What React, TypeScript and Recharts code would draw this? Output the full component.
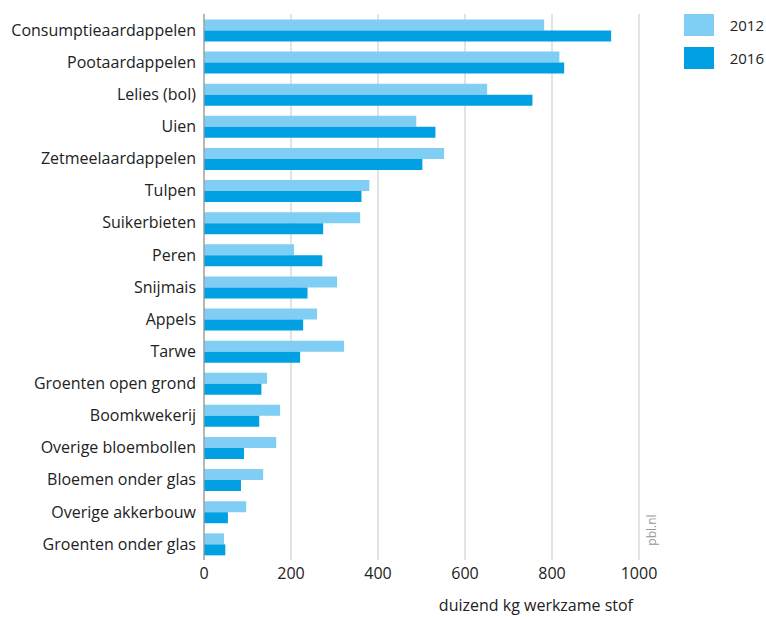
import { BarChart, Bar, XAxis, YAxis, CartesianGrid, Legend } from 'recharts';

const categories = [
    'Consumptieaardappelen',
    'Pootaardappelen',
    'Lelies (bol)',
    'Uien',
    'Zetmeelaardappelen',
    'Tulpen',
    'Suikerbieten',
    'Peren',
    'Snijmais',
    'Appels',
    'Tarwe',
    'Groenten open grond',
    'Boomkwekerij',
    'Overige bloembollen',
    'Bloemen onder glas',
    'Overige akkerbouw',
    'Groenten onder glas',
];

// duizend kg werkzame stof
const values2012 = [782, 817, 651, 488, 552, 380, 359, 207, 306, 260, 322, 145, 175, 166, 136, 97, 46];
const values2016 = [936, 828, 755, 532, 502, 362, 274, 272, 238, 228, 221, 132, 127, 92, 85, 55, 49];

const xTicks = [0, 200, 400, 600, 800, 1000];

const FONT = '"Open Sans", sans-serif';
const LIGHT = '#80cef3';
const DARK = '#00a0e3';

const data = categories.map((name, i) => ({
    name,
    y2012: values2012[i],
    y2016: values2016[i],
}));

// legend drawn as stacked swatches, top right
const renderLegend = (props: any) => {
    const items = props.payload || [];
    return (
        <div style={{ fontFamily: FONT, fontSize: 15, color: '#222' }}>
            {items.map((entry: any) => (
                <div key={entry.value} style={{ display: 'flex', alignItems: 'center', height: 22, marginBottom: 11 }}>
                    <span style={{ display: 'inline-block', width: 30, height: 22, background: entry.color }} />
                    <span style={{ marginLeft: 16 }}>{entry.value}</span>
                </div>
            ))}
        </div>
    );
};

export default function App() {
    return (
        <div style={{ position: 'absolute', left: 0, top: 0, width: 766, height: 617, background: '#fff' }}>
            <BarChart
                width={766}
                height={617}
                data={data}
                layout="vertical"
                margin={{ top: 14, right: 127, bottom: 0, left: 0 }}
                barCategoryGap="17%"
                barGap={0}
            >
                <CartesianGrid horizontal={false} stroke="#d0d0d0" strokeWidth={1.2} />
                <XAxis
                    type="number"
                    domain={[0, 1000]}
                    ticks={xTicks}
                    axisLine={false}
                    tickLine={false}
                    height={57}
                    tick={{ fontSize: 16, fill: '#222', fontFamily: FONT }}
                    label={{
                        value: 'duizend kg werkzame stof',
                        position: 'insideBottomRight',
                        offset: 6,
                        style: { fontSize: 16, fill: '#222', fontFamily: FONT },
                    }}
                />
                <YAxis
                    type="category"
                    dataKey="name"
                    width={204}
                    tickLine={false}
                    axisLine={{ stroke: '#999', strokeWidth: 1.2 }}
                    interval={0}
                    tick={{ fontSize: 16, fill: '#222', fontFamily: FONT }}
                />
                <Legend
                    layout="vertical"
                    align="center"
                    verticalAlign="middle"
                    content={renderLegend}
                    wrapperStyle={{ top: 14, left: 684, width: 80 }}
                />
                <Bar dataKey="y2012" name="2012" fill={LIGHT} isAnimationActive={false} />
                <Bar dataKey="y2016" name="2016" fill={DARK} isAnimationActive={false} />
            </BarChart>
            <span
                style={{
                    position: 'absolute',
                    left: 651,
                    top: 530,
                    transform: 'translate(-50%, -50%) rotate(-90deg)',
                    fontFamily: FONT,
                    fontSize: 12,
                    color: '#999',
                    whiteSpace: 'nowrap',
                }}
            >
                pbl.nl
            </span>
        </div>
    );
}
